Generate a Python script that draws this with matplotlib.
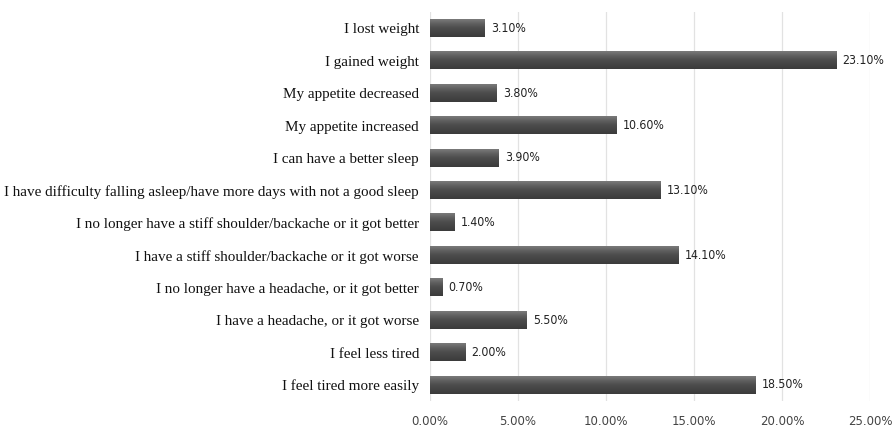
import matplotlib.pyplot as plt
import numpy as np
from matplotlib.colors import LinearSegmentedColormap

categories = [
    "I lost weight",
    "I gained weight",
    "My appetite decreased",
    "My appetite increased",
    "I can have a better sleep",
    "I have difficulty falling asleep/have more days with not a good sleep",
    "I no longer have a stiff shoulder/backache or it got better",
    "I have a stiff shoulder/backache or it got worse",
    "I no longer have a headache, or it got better",
    "I have a headache, or it got worse",
    "I feel less tired",
    "I feel tired more easily",
]
values = [3.1, 23.1, 3.8, 10.6, 3.9, 13.1, 1.4, 14.1, 0.7, 5.5, 2.0, 18.5]
xticks = [0, 5, 10, 15, 20, 25]

fig = plt.figure(figsize=(8.96, 4.30), dpi=100)
ax = fig.add_axes([0.48, 0.067, 0.491, 0.905])

# grey shaded bars: lighter top edge, dark band below
shade = LinearSegmentedColormap.from_list(
    "shade", ["#7a7a7a", "#606060", "#4c4c4c", "#444444", "#3a3a3a"])
grad = np.linspace(0, 1, 64).reshape(-1, 1)
h = 0.53

ypos = np.arange(len(categories))
for y, v in zip(ypos, values):
    ax.imshow(grad, cmap=shade, aspect="auto", interpolation="bicubic",
              extent=(0, v, y + h / 2, y - h / 2), zorder=3)
    ax.text(v + 0.35, y, f"{v:.2f}%", va="center", ha="left",
            fontsize=8.8, family="DejaVu Sans", color="#222222",
            stretch="condensed")

ax.set_xlim(0, 25)
ax.set_ylim(len(categories) - 0.5, -0.5)
ax.set_yticks(ypos)
ax.set_yticklabels(categories, family="Liberation Serif", fontsize=10.9,
                   color="#111111")
ax.set_xticks(xticks)
ax.set_xticklabels([f"{t:.2f}%" for t in xticks], family="DejaVu Sans",
                   fontsize=8.5, color="#444444")
ax.tick_params(length=0, pad=8)
ax.tick_params(axis="x", pad=10)
ax.grid(axis="x", color="#e2e2e2", linewidth=0.9, zorder=0)
for s in ax.spines.values():
    s.set_visible(False)

fig.savefig("out.png", dpi=100, facecolor="white")
